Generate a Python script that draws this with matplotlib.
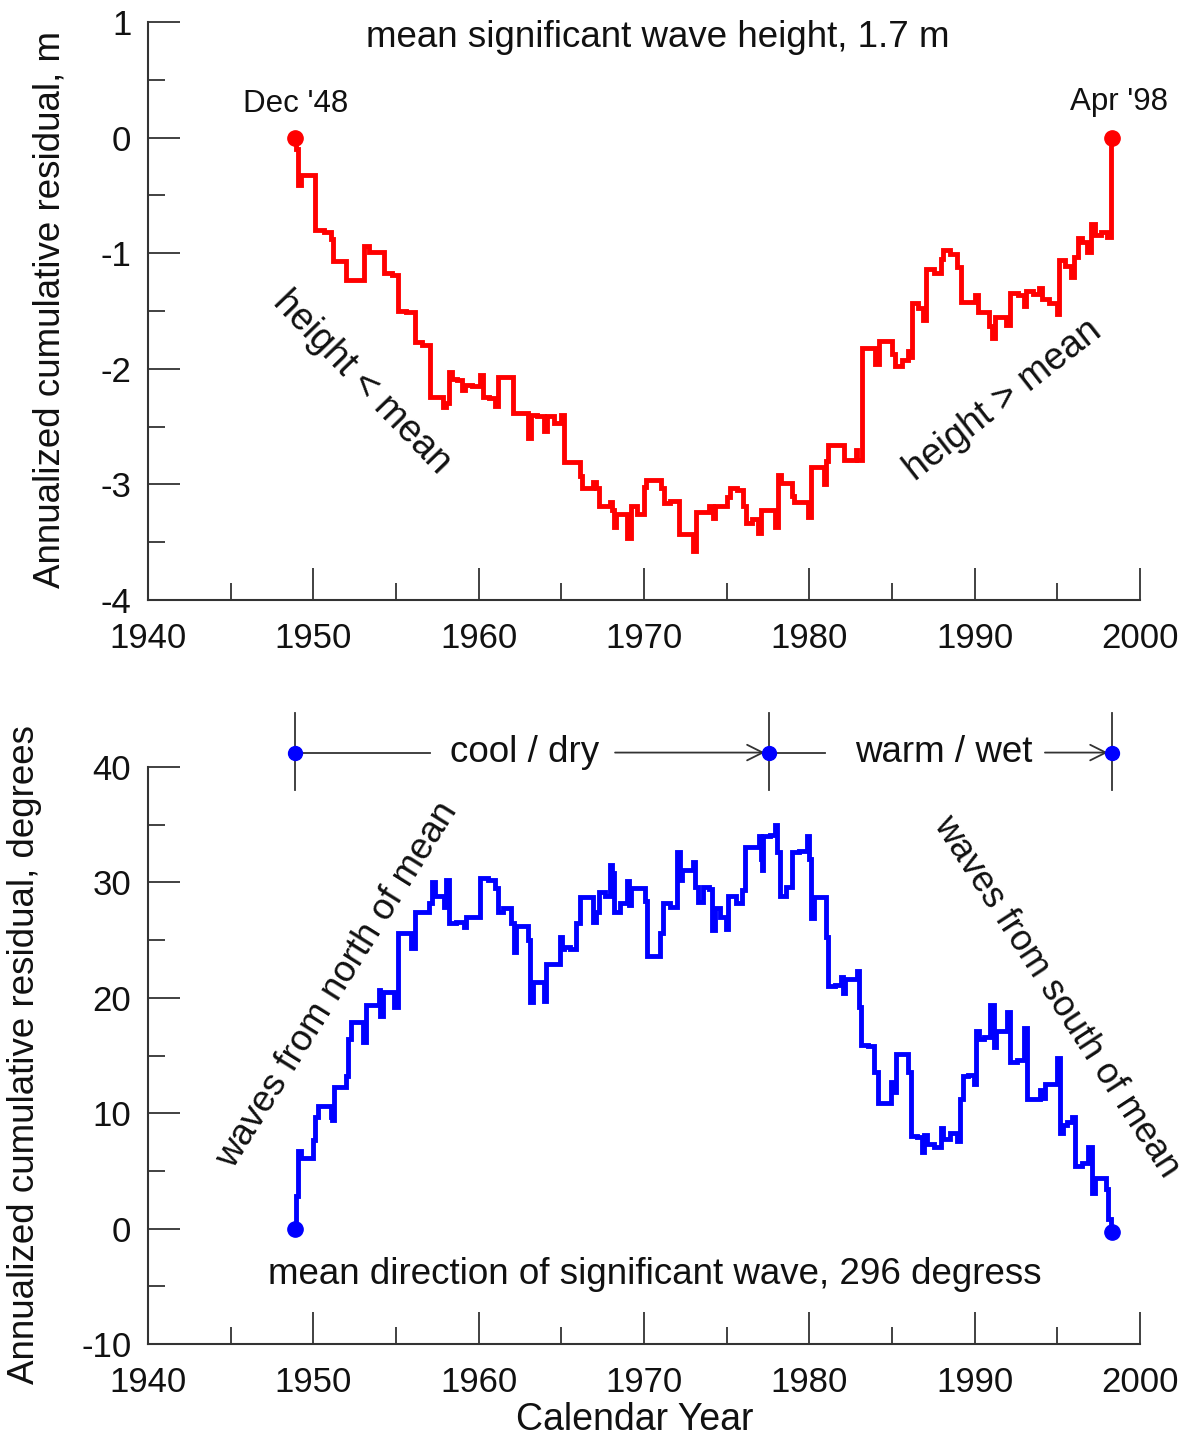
import matplotlib
matplotlib.use("Agg")
import matplotlib.pyplot as plt
from matplotlib.ticker import MultipleLocator

plt.rcParams['font.family'] = ['Liberation Sans', 'DejaVu Sans']
plt.rcParams['axes.unicode_minus'] = False

# Annualized cumulative residual of significant wave height (m)
height_year = [
    1948.92, 1949.0, 1949.15, 1949.3, 1949.9, 1950.3, 1951.0, 1951.1, 1951.3, 1951.9,
    1952.1, 1952.9, 1953.2, 1953.5, 1954.2, 1954.4, 1955.1, 1955.2, 1956.0, 1956.3,
    1956.9, 1957.2, 1957.8, 1957.9, 1958.1, 1958.3, 1958.45, 1958.9, 1959.1, 1959.25,
    1960.0, 1960.2, 1960.3, 1960.9, 1961.05, 1961.3, 1961.9, 1962.3, 1962.9, 1963.1,
    1963.2, 1963.9, 1964.05, 1964.2, 1964.9, 1965.0, 1965.3, 1966.1, 1966.2, 1966.3,
    1966.85, 1967.0, 1967.2, 1967.4, 1967.9, 1968.0, 1968.15, 1968.25, 1968.35, 1968.85,
    1969.15, 1969.25, 1969.9, 1970.05, 1970.25, 1970.95, 1971.1, 1971.3, 1971.9, 1972.3,
    1972.9, 1973.0, 1973.3, 1973.8, 1974.1, 1974.2, 1974.4, 1974.9, 1975.1, 1975.3,
    1975.9, 1976.05, 1976.3, 1976.8, 1977.0, 1977.1, 1977.8, 1978.0, 1978.2, 1978.4,
    1978.85, 1979.0, 1979.2, 1979.85, 1979.95, 1980.2, 1980.8, 1980.95, 1981.05, 1981.25,
    1981.95, 1982.2, 1982.75, 1982.85, 1982.95, 1983.1, 1983.25, 1983.85, 1984.15, 1984.25,
    1984.9, 1985.1, 1985.3, 1985.9, 1986.05, 1986.15, 1986.3, 1986.8, 1986.95, 1987.2,
    1987.9, 1988.0, 1988.2, 1988.8, 1989.1, 1989.3, 1989.9, 1990.15, 1990.2, 1990.8,
    1990.95, 1991.1, 1991.35, 1991.8, 1992.0, 1992.3, 1992.9, 1993.05, 1993.2, 1993.8,
    1994.0, 1994.15, 1994.9, 1995.0, 1995.15, 1995.75, 1995.9, 1996.15, 1996.3, 1996.7,
    1996.9, 1997.2, 1997.35, 1997.9, 1998.05, 1998.15, 1998.3,
]
height_resid = [
    0.0, -0.10, -0.41, -0.32, -0.32, -0.80, -0.82, -0.88, -1.07, -1.07,
    -1.23, -1.23, -0.94, -0.99, -0.99, -1.17, -1.19, -1.50, -1.51, -1.77,
    -1.79, -2.24, -2.24, -2.33, -2.30, -2.03, -2.09, -2.10, -2.18, -2.14,
    -2.15, -2.05, -2.24, -2.25, -2.32, -2.07, -2.07, -2.38, -2.38, -2.60,
    -2.40, -2.41, -2.54, -2.41, -2.47, -2.40, -2.81, -2.81, -2.93, -3.03,
    -3.03, -2.98, -3.03, -3.19, -3.19, -3.15, -3.22, -3.37, -3.26, -3.26,
    -3.46, -3.19, -3.26, -3.02, -2.96, -2.96, -3.03, -3.16, -3.14, -3.43,
    -3.43, -3.58, -3.24, -3.24, -3.19, -3.29, -3.19, -3.19, -3.11, -3.03,
    -3.05, -3.19, -3.33, -3.30, -3.42, -3.22, -3.22, -3.37, -2.92, -2.99,
    -2.99, -3.10, -3.15, -3.15, -3.28, -2.85, -2.85, -3.00, -2.80, -2.66,
    -2.66, -2.79, -2.79, -2.70, -2.79, -2.79, -1.82, -1.82, -1.96, -1.76,
    -1.76, -1.87, -1.98, -1.92, -1.85, -1.90, -1.43, -1.47, -1.58, -1.14,
    -1.17, -1.05, -0.97, -1.01, -1.12, -1.42, -1.42, -1.36, -1.51, -1.51,
    -1.63, -1.73, -1.55, -1.55, -1.62, -1.34, -1.36, -1.46, -1.33, -1.35,
    -1.30, -1.40, -1.43, -1.53, -1.06, -1.11, -1.21, -1.03, -0.87, -0.90,
    -0.99, -0.75, -0.84, -0.82, -0.86, -0.86, 0.0,
]

# Annualized cumulative residual of mean wave direction (degrees)
dir_year = [
    1948.92, 1949.0, 1949.15, 1949.3, 1949.9, 1950.0, 1950.2, 1950.35, 1951.0, 1951.1,
    1951.2, 1951.3, 1951.9, 1952.0, 1952.2, 1952.35, 1952.85, 1953.1, 1953.3, 1953.9,
    1954.0, 1954.1, 1954.3, 1954.8, 1954.95, 1955.25, 1955.75, 1956.05, 1956.25, 1956.85,
    1957.1, 1957.25, 1957.45, 1957.85, 1958.0, 1958.1, 1958.3, 1959.0, 1959.2, 1959.3,
    1960.0, 1960.2, 1960.9, 1961.1, 1961.2, 1961.8, 1962.1, 1962.2, 1962.3, 1962.9,
    1963.05, 1963.2, 1963.4, 1963.9, 1964.0, 1964.2, 1964.85, 1965.0, 1965.1, 1965.25,
    1965.8, 1966.0, 1966.3, 1966.85, 1967.0, 1967.2, 1967.35, 1967.9, 1968.0, 1968.1,
    1968.25, 1968.85, 1969.05, 1969.15, 1969.3, 1969.95, 1970.15, 1970.25, 1970.85, 1971.05,
    1971.3, 1971.9, 1972.05, 1972.25, 1972.35, 1972.9, 1973.0, 1973.2, 1973.3, 1973.85,
    1974.0, 1974.2, 1974.35, 1974.9, 1975.0, 1975.2, 1975.9, 1976.0, 1976.2, 1976.9,
    1977.0, 1977.1, 1977.15, 1977.3, 1977.9, 1978.0, 1978.1, 1978.35, 1978.85, 1979.0,
    1979.8, 1979.9, 1980.0, 1980.2, 1980.4, 1980.95, 1981.05, 1981.25, 1981.8, 1982.0,
    1982.1, 1982.2, 1982.85, 1982.95, 1983.05, 1983.25, 1983.85, 1984.0, 1984.3, 1984.9,
    1985.0, 1985.15, 1985.35, 1985.9, 1986.05, 1986.3, 1986.7, 1986.9, 1987.0, 1987.2,
    1987.9, 1988.0, 1988.15, 1988.9, 1989.0, 1989.25, 1989.3, 1989.9, 1990.0, 1990.2,
    1990.3, 1990.85, 1991.05, 1991.25, 1991.35, 1991.9, 1992.0, 1992.25, 1992.9, 1993.05,
    1993.25, 1993.85, 1994.05, 1994.15, 1994.3, 1994.95, 1995.05, 1995.3, 1995.4, 1995.8,
    1995.95, 1996.2, 1996.8, 1996.95, 1997.2, 1997.35, 1997.9, 1998.0, 1998.15, 1998.3,
]
dir_resid = [
    0.0, 2.8, 6.7, 6.1, 6.1, 7.7, 9.7, 10.6, 10.6, 9.7,
    9.4, 12.3, 12.3, 13.2, 16.4, 17.9, 17.9, 16.2, 19.4, 19.4,
    20.7, 18.4, 20.5, 20.5, 19.2, 25.6, 25.6, 24.3, 27.4, 27.4,
    28.2, 30.0, 28.8, 28.8, 27.9, 30.2, 26.5, 26.6, 26.1, 27.0,
    27.0, 30.4, 30.2, 29.5, 27.4, 27.8, 26.5, 24.0, 26.2, 26.2,
    25.0, 19.6, 21.4, 21.4, 19.7, 22.9, 22.9, 25.3, 24.2, 24.4,
    24.2, 26.5, 28.7, 28.7, 26.6, 27.4, 29.2, 28.8, 31.5, 30.8,
    27.4, 28.2, 30.1, 28.0, 29.5, 29.5, 28.4, 23.6, 23.6, 25.6,
    28.2, 27.9, 32.6, 30.2, 31.1, 31.1, 31.8, 29.6, 28.3, 29.6,
    29.4, 25.9, 27.8, 27.0, 26.0, 28.8, 28.2, 29.3, 33.1, 33.1,
    34.0, 32.0, 31.1, 34.0, 34.1, 35.0, 32.6, 28.8, 29.6, 32.6,
    32.7, 34.0, 32.0, 26.9, 28.7, 28.7, 25.3, 21.0, 21.1, 21.8,
    20.4, 21.6, 21.6, 22.3, 19.2, 15.9, 15.8, 13.6, 10.9, 10.9,
    12.7, 11.8, 15.1, 15.1, 13.6, 8.0, 7.9, 6.6, 8.1, 7.3,
    7.1, 8.7, 7.8, 8.3, 7.6, 11.2, 13.2, 13.3, 12.5, 17.1,
    16.4, 16.6, 19.4, 15.7, 17.1, 17.1, 18.8, 14.4, 14.6, 17.4,
    11.2, 11.2, 12.0, 11.3, 12.5, 12.5, 14.8, 8.3, 9.0, 9.2,
    9.7, 5.4, 5.7, 7.1, 3.1, 4.4, 4.4, 3.4, 0.8, -0.3,
]

# Climate regime boundaries (Dec 1948, regime shift, Apr 1998)
regime_years = [1948.92, 1977.55, 1998.3]
regime_names = ["cool / dry", "warm / wet"]

AXIS_COLOR = "#333333"
TEXT_COLOR = "#111111"
TICK_FS = 25
LABEL_FS = 26.5


def style_axes(ax, ymin, ymax, ymajor, yminor):
    ax.set_xlim(1940, 2000)
    ax.set_ylim(ymin, ymax)
    for side in ("top", "right"):
        ax.spines[side].set_visible(False)
    for side in ("left", "bottom"):
        ax.spines[side].set_linewidth(1.5)
        ax.spines[side].set_color(AXIS_COLOR)
    ax.xaxis.set_major_locator(MultipleLocator(10))
    ax.xaxis.set_minor_locator(MultipleLocator(5))
    ax.yaxis.set_major_locator(MultipleLocator(ymajor))
    ax.yaxis.set_minor_locator(MultipleLocator(yminor))
    ax.tick_params(which="both", direction="in", color=AXIS_COLOR, width=1.3,
                   labelsize=TICK_FS, labelcolor=TEXT_COLOR)
    ax.tick_params(which="major", length=23)
    ax.tick_params(which="minor", length=12)
    ax.tick_params(axis="x", pad=16)
    ax.tick_params(axis="y", pad=12)
    ax.set_facecolor("none")


fig = plt.figure(figsize=(11.87, 14.4), dpi=100)
W, H = 1187, 1440
x0, x1 = 148 / W, 1140 / W

# ---- wave height panel ----
ax1 = fig.add_axes([x0, 1 - 600 / H, x1 - x0, (600 - 22) / H])
style_axes(ax1, -4, 1, 1, 0.5)
ax1.plot(height_year, height_resid, color="#ff0000", lw=3.5, drawstyle="steps-mid",
         solid_joinstyle="miter", zorder=3)
ax1.plot([height_year[0], height_year[-1]], [height_resid[0], height_resid[-1]],
         "o", color="#ff0000", ms=11, zorder=4, clip_on=False)
ax1.text(1970.85, 0.87, "mean significant wave height, 1.7 m", ha="center",
         va="center", fontsize=26.5, color=TEXT_COLOR)
ax1.text(1948.9, 0.29, "Dec '48", ha="center", va="center", fontsize=22.5,
         color=TEXT_COLOR)
ax1.text(1998.7, 0.31, "Apr '98", ha="center", va="center", fontsize=22.5,
         color=TEXT_COLOR)
ax1.text(1952.95, -2.12, "height < mean", ha="center", va="center", fontsize=27,
         rotation=-46, rotation_mode="anchor", color=TEXT_COLOR)
ax1.text(1991.7, -2.27, "height > mean", ha="center", va="center", fontsize=27,
         rotation=38, rotation_mode="anchor", color=TEXT_COLOR)
fig.text(50 / W, 1 - 310 / H, "Annualized cumulative residual, m", rotation=90,
         ha="center", va="center", fontsize=LABEL_FS, color=TEXT_COLOR)

# ---- wave direction panel ----
ax2 = fig.add_axes([x0, 1 - 1344 / H, x1 - x0, (1344 - 767) / H])
style_axes(ax2, -10, 40, 10, 5)
ax2.plot(dir_year, dir_resid, color="#0000ff", lw=3.5, drawstyle="steps-mid",
         solid_joinstyle="miter", zorder=3)
ax2.plot([dir_year[0], dir_year[-1]], [dir_resid[0], dir_resid[-1]], "o",
         color="#0000ff", ms=11, zorder=4, clip_on=False)

# regime bar above the panel
bar_y = 41.25
for yr in regime_years:
    ax2.plot([yr, yr], [38.0, 44.7], color=AXIS_COLOR, lw=1.3, clip_on=False)
ax2.plot(regime_years, [bar_y] * len(regime_years), "o", color="#0000ff", ms=10,
         zorder=5, clip_on=False)
ax2.plot([regime_years[0], 1957.06], [bar_y, bar_y], color=AXIS_COLOR, lw=1.3,
         clip_on=False)
ax2.annotate("", xy=(1977.3, bar_y), xytext=(1968.25, bar_y), annotation_clip=False,
             arrowprops=dict(arrowstyle="->", color=AXIS_COLOR, lw=1.3,
                             mutation_scale=28, shrinkA=0, shrinkB=0))
ax2.plot([regime_years[1], 1980.95], [bar_y, bar_y], color=AXIS_COLOR, lw=1.3,
         clip_on=False)
ax2.annotate("", xy=(1998.05, bar_y), xytext=(1994.25, bar_y), annotation_clip=False,
             arrowprops=dict(arrowstyle="->", color=AXIS_COLOR, lw=1.3,
                             mutation_scale=28, shrinkA=0, shrinkB=0))
ax2.text(1962.8, bar_y, regime_names[0], ha="center", va="center", fontsize=26.5,
         color=TEXT_COLOR)
ax2.text(1988.1, bar_y, regime_names[1], ha="center", va="center", fontsize=26.5,
         color=TEXT_COLOR)

ax2.text(1951.45, 21.1, "waves from north of mean", ha="center", va="center",
         fontsize=26.5, rotation=58, rotation_mode="anchor", color=TEXT_COLOR)
ax2.text(1994.95, 20.1, "waves from south of mean", ha="center", va="center",
         fontsize=26, rotation=-57, rotation_mode="anchor", color=TEXT_COLOR)
ax2.text(1970.65, -4.0, "mean direction of significant wave, 296 degress",
         ha="center", va="center", fontsize=26.5, color=TEXT_COLOR)
fig.text(25 / W, 1 - 1055 / H, "Annualized cumulative residual, degrees",
         rotation=90, ha="center", va="center", fontsize=LABEL_FS, color=TEXT_COLOR)
fig.text(635 / W, 1 - 1420 / H, "Calendar Year", ha="center", va="center",
         fontsize=27, color=TEXT_COLOR)

fig.savefig("out.png", dpi=100, facecolor="white")
